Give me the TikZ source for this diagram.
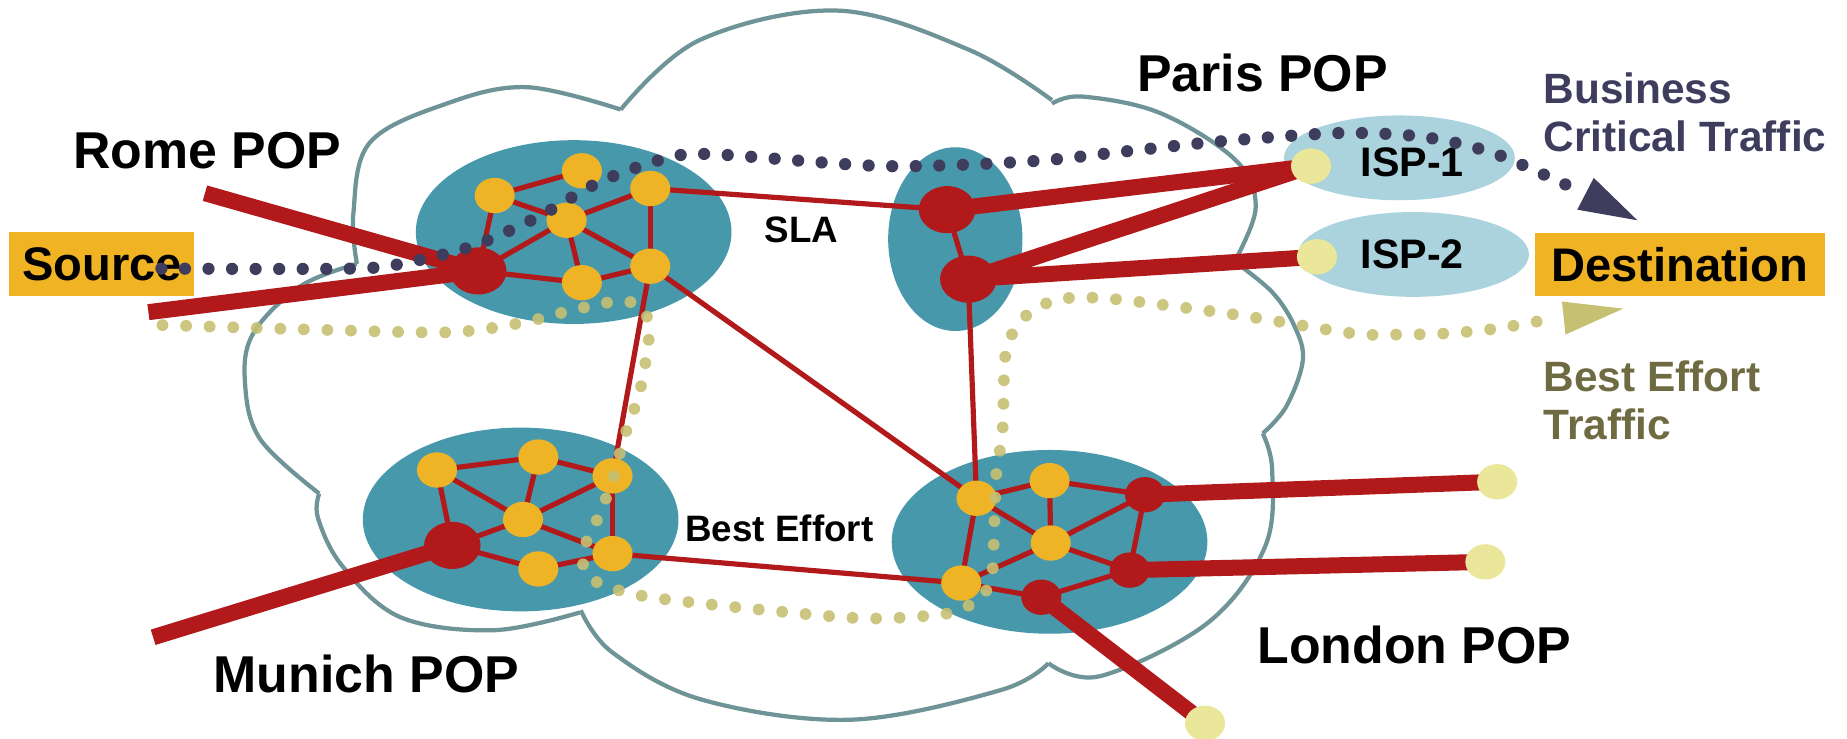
\documentclass[tikz,border=0pt]{standalone}
\usepackage{fontspec}
\setmainfont{Liberation Sans}
\usetikzlibrary{shapes.geometric}
\pgfdeclarelayer{bg}
\pgfdeclarelayer{edges}
\pgfdeclarelayer{fg}
\pgfsetlayers{bg,edges,main,fg}
\definecolor{popteal}{HTML}{4898AC}
\definecolor{netred}{HTML}{B1191A}
\definecolor{nodeyel}{HTML}{EEB425}
\definecolor{paleyel}{HTML}{EAE79A}
\definecolor{ispblue}{HTML}{AAD3DD}
\definecolor{cloudc}{HTML}{6F9497}
\definecolor{navydot}{HTML}{3F3D5E}
\definecolor{olivedot}{HTML}{C6C073}
\definecolor{olivetxt}{HTML}{6E6B42}
\definecolor{boxorange}{HTML}{EFB324}
\begin{document}
\begin{tikzpicture}[x=0.5pt,y=-0.5pt,
  pop/.style={ellipse, fill=popteal, inner sep=0pt, minimum width=134pt, minimum height=78pt},
  isp/.style={ellipse, fill=ispblue, inner sep=0pt, minimum width=98pt, minimum height=36pt},
  yn/.style={ellipse, fill=nodeyel, inner sep=0pt, minimum width=17pt, minimum height=15pt},
  rn/.style={ellipse, fill=netred, inner sep=0pt, minimum width=24pt, minimum height=20pt},
  rs/.style={ellipse, fill=netred, inner sep=0pt, minimum width=17pt, minimum height=15pt},
  pd/.style={ellipse, fill=paleyel, inner sep=0pt, minimum width=17pt, minimum height=15pt},
  lnk/.style={draw=netred, line width=2.2pt},
  trunk/.style={draw=netred, line width=6.8pt},
  cloudline/.style={draw=cloudc, line width=1.8pt},
  poplbl/.style={font=\bfseries\fontsize{22}{26}\selectfont, inner sep=0pt},
  boxlbl/.style={fill=boxorange, font=\bfseries\fontsize{20}{24}\selectfont, inner sep=0pt},
  ispl/.style={font=\bfseries\fontsize{17.5}{20}\selectfont, inner sep=0pt},
  midl/.style={font=\bfseries\fontsize{15.6}{18}\selectfont, inner sep=0pt},
  trafl/.style={font=\bfseries\fontsize{18}{20.5}\selectfont, inner sep=0pt, align=left},
  navyflow/.style={draw=navydot, line width=5.2pt, line cap=round, dash pattern=on 0pt off 10pt},
  oliveflow/.style={draw=olivedot, line width=5pt, line cap=round, dash pattern=on 0pt off 10pt, draw opacity=0.9}
]
\useasboundingbox (0,0) rectangle (1568,627);

% ---------- cloud and POP areas ----------
\begin{pgfonlayer}{bg}
\draw[cloudline] plot[smooth, tension=0.6] coordinates {(527,93) (594,34) (711,9) (822,42) (893,85)};
\draw[cloudline] plot[smooth, tension=0.6] coordinates {(893,88) (919,82) (985,96) (1049,136) (1066,176) (1048,222)};
\draw[cloudline] plot[smooth, tension=0.6] coordinates {(1048,222) (1080,248) (1099,277) (1106,306) (1092,345) (1072,368)};
\draw[cloudline] plot[smooth, tension=0.6] coordinates {(1072,368) (1080,399) (1074,464) (1025,529) (934,574) (890,563)};
\draw[cloudline] plot[smooth, tension=0.6] coordinates {(890,563) (849,586) (722,611) (596,594) (520,554) (493,518)};
\draw[cloudline] plot[smooth, tension=0.6] coordinates {(492,520) (419,535) (340,524) (291,481) (270,440) (271,419)};
\draw[cloudline] plot[smooth, tension=0.6] coordinates {(271,419) (221,373) (208,325) (215,283) (255,243) (303,224)};
\draw[cloudline] plot[smooth, tension=0.6] coordinates {(303,224) (300,181) (314,121) (379,88) (447,74) (527,93)};

\node[pop] (rome) at (487,197) {};
\node[pop, minimum width=57pt] (paris) at (811,203) {};
\node[pop] (munich) at (442,441) {};
\node[pop] (london) at (891,460) {};
\node[isp] (isp1) at (1188,134) {};
\node[isp] (isp2) at (1200,216) {};
\end{pgfonlayer}

% ---------- nodes ----------
\node[yn] (R1) at (420,166) {};
\node[yn] (R2) at (494,145) {};
\node[yn] (R3) at (552,160) {};
\node[yn] (R4) at (481,187) {};
\node[yn] (R5) at (494,240) {};
\node[yn] (R6) at (552,226) {};
\node[rn] (Rr) at (406,230) {};

\node[rn] (P1) at (804,178) {};
\node[rn] (P2) at (822,237) {};

\node[yn] (M1) at (371,399) {};
\node[yn] (M2) at (457,388) {};
\node[yn] (M3) at (520,404) {};
\node[yn] (M4) at (444,441) {};
\node[rn] (Mr) at (384,463) {};
\node[yn] (M5) at (457,483) {};
\node[yn] (M6) at (520,470) {};

\node[yn] (L1) at (829,423) {};
\node[yn] (L2) at (891,408) {};
\node[rs] (L3) at (972,420) {};
\node[yn] (L4) at (892,461) {};
\node[rs] (L5) at (959,484) {};
\node[yn] (L6) at (816,495) {};
\node[rs] (L7) at (884,507) {};

\node[pd] (i1) at (1113,141) {};
\node[pd] (i2) at (1118,218) {};
\node[pd] (o1) at (1271,409) {};
\node[pd] (o2) at (1261,477) {};
\node[pd] (o3) at (1023,614) {};

\coordinate (romeend) at (174,164);
\coordinate (srcend) at (126,265);
\coordinate (munend) at (130,541);

% ---------- links ----------
\begin{pgfonlayer}{edges}
\foreach \a/\b in {R1/R2,R1/R4,R1/Rr,R4/R3,R4/R5,R4/R6,Rr/R4,Rr/R5,R5/R6,R3/R6,
  R3/P1,P1/P2,R6/M3,R6/L1,P2/L1,M6/L6,
  M1/M2,M2/M3,M1/M4,M2/M4,M3/M4,M1/Mr,Mr/M4,Mr/M5,M4/M6,M5/M6,M3/M6,
  L1/L2,L2/L3,L2/L4,L1/L4,L1/L6,L3/L4,L3/L5,L4/L5,L4/L6,L6/L7,L7/L5}
  \draw[lnk] (\a.center) -- (\b.center);
\draw[trunk] (romeend) -- (Rr.center);
\draw[trunk] (srcend) -- (Rr.center);
\draw[trunk] (munend) -- (Mr.center);
\draw[trunk] (P1.center) -- (i1.center);
\draw[trunk] (P2.center) -- (i1.center);
\draw[trunk] (P2.center) -- (i2.center);
\draw[trunk] (L3.center) -- (o1.center);
\draw[trunk] (L5.center) -- (o2.center);
\draw[trunk] (L7.center) -- (o3.center);
\end{pgfonlayer}

% ---------- labels ----------
\node[poplbl, anchor=base west] (romelbl) at (62,143) {Rome POP};
\node[poplbl, anchor=base west] (parislbl) at (965,78) {Paris POP};
\node[poplbl, anchor=base east] (munichlbl) at (441,587.5) {Munich POP};
\node[poplbl, anchor=base west] (londonlbl) at (1067,563) {London POP};
\node[boxlbl, minimum width=78.5pt, minimum height=27pt] (source) at (86.5,224) {Source};
\node[boxlbl, minimum width=123pt, minimum height=26.5pt] (dest) at (1426,224.5) {Destination};
\node[ispl, anchor=base] (isp1lbl) at (1199,150) {ISP-1};
\node[ispl, anchor=base] (isp2lbl) at (1199,228) {ISP-2};
\node[midl, anchor=base west] (slalbl) at (649,206) {SLA};
\node[midl, anchor=base west] (belbl) at (581.5,460) {Best Effort};
\node[trafl, text=navydot, anchor=base west] (bizlbl) at (1310,129) {Business\\Critical Traffic};
\node[trafl, text=olivetxt, anchor=base west] (betlbl) at (1310,373.5) {Best Effort\\Traffic};

% ---------- traffic flows ----------
\begin{pgfonlayer}{fg}
\draw[navyflow] plot[smooth, tension=0.5] coordinates {(137,228) (300,228) (345,223) (401,209) (457,184) (510,154) (567,134) (607,131) (750,141) (874,137) (951,129) (1036,120) (1135,113) (1197,115) (1239,122) (1276,133) (1332,158)};
\fill[navydot] (1353,151) -- (1339,178) -- (1390,187) -- cycle;
\draw[oliveflow] plot[smooth, tension=0.5] coordinates {(138,276) (273,280) (383,282) (443,274) (483,264) (522,256) (543,259) (551,275) (550,294) (543,333) (530,371) (519,411) (504,448) (495,467) (497,486) (513,497) (552,507) (650,518) (735,525) (796,522) (816,517) (833,507) (842,489) (844,448) (846,400) (851,367) (853,306) (858,286) (870,269) (887,258) (907,253) (947,254) (1048,267) (1148,283) (1189,284) (1229,283) (1270,279) (1310,272)};
\fill[olivedot] (1326,256) -- (1329,284) -- (1378,262) -- cycle;
\end{pgfonlayer}
\end{tikzpicture}
\end{document}
